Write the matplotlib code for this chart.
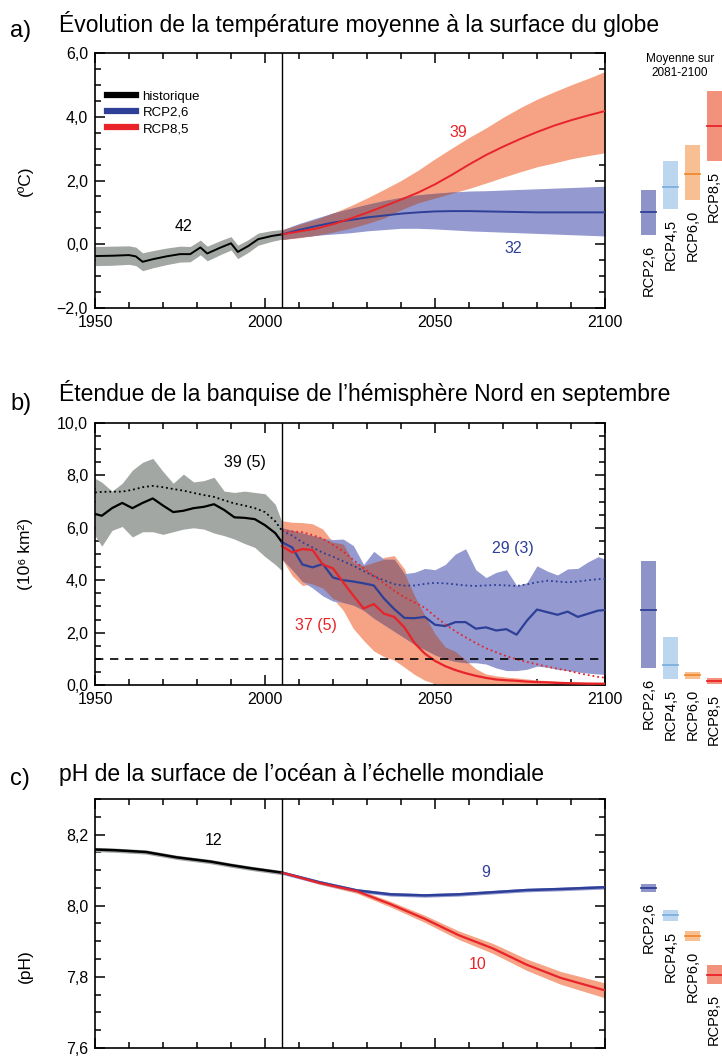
import numpy as np
import matplotlib
matplotlib.use("Agg")
import matplotlib.pyplot as plt
from matplotlib.lines import Line2D
from matplotlib.ticker import MultipleLocator, FuncFormatter

plt.rcParams['font.family'] = ['Liberation Sans', 'DejaVu Sans']

# ---------------- data ----------------
# a) global mean surface temperature change (degC)
hist_a_years = [1950, 1955, 1960, 1962, 1964, 1967, 1971, 1975, 1978, 1981, 1983, 1987, 1990, 1992, 1995, 1998, 2002, 2005]
hist_a_mean = [-0.37, -0.36, -0.34, -0.38, -0.55, -0.47, -0.38, -0.31, -0.31, -0.10, -0.29, -0.10, 0.03, -0.24, -0.06, 0.16, 0.26, 0.31]
hist_a_half = [0.30, 0.30, 0.29, 0.29, 0.28, 0.27, 0.26, 0.25, 0.24, 0.23, 0.23, 0.22, 0.21, 0.21, 0.20, 0.19, 0.17, 0.15]

proj_a_years = [2005, 2010, 2015, 2020, 2025, 2030, 2035, 2040, 2045, 2050, 2055, 2060, 2065, 2070, 2075, 2080, 2085, 2090, 2095, 2100]
rcp85_a_mean = [0.31, 0.40, 0.49, 0.63, 0.80, 0.99, 1.19, 1.40, 1.62, 1.88, 2.18, 2.50, 2.80, 3.06, 3.30, 3.52, 3.72, 3.89, 4.04, 4.18]
rcp85_a_hi = [0.45, 0.62, 0.78, 0.98, 1.20, 1.45, 1.72, 2.00, 2.32, 2.68, 3.02, 3.35, 3.65, 3.98, 4.28, 4.55, 4.78, 5.00, 5.20, 5.42]
rcp85_a_lo = [0.15, 0.20, 0.28, 0.38, 0.50, 0.65, 0.82, 1.08, 1.30, 1.45, 1.60, 1.75, 1.92, 2.10, 2.27, 2.43, 2.55, 2.68, 2.78, 2.87]
rcp26_a_mean = [0.31, 0.45, 0.57, 0.68, 0.76, 0.84, 0.90, 0.96, 1.00, 1.03, 1.04, 1.04, 1.03, 1.02, 1.01, 1.00, 1.00, 1.00, 1.00, 1.00]
rcp26_a_hi = [0.45, 0.65, 0.82, 0.98, 1.12, 1.25, 1.37, 1.47, 1.55, 1.60, 1.64, 1.67, 1.68, 1.70, 1.72, 1.74, 1.76, 1.78, 1.80, 1.82]
rcp26_a_lo = [0.15, 0.22, 0.28, 0.32, 0.36, 0.42, 0.46, 0.50, 0.50, 0.48, 0.45, 0.42, 0.40, 0.38, 0.36, 0.34, 0.32, 0.30, 0.28, 0.26]

# b) northern hemisphere September sea ice extent (10^6 km2)
hist_b_years = [1950, 1952, 1955, 1958, 1961, 1964, 1967, 1970, 1973, 1976, 1979, 1982, 1985, 1988, 1991, 1994, 1997, 2000, 2003, 2005]
hist_b_mean = [6.53, 6.46, 6.75, 6.95, 6.75, 6.95, 7.12, 6.85, 6.60, 6.65, 6.75, 6.80, 6.90, 6.68, 6.40, 6.38, 6.33, 6.10, 5.80, 5.45]
hist_b_sub = [7.35, 7.37, 7.38, 7.38, 7.45, 7.55, 7.60, 7.55, 7.48, 7.42, 7.33, 7.25, 7.18, 7.05, 6.93, 6.85, 6.75, 6.60, 6.25, 5.89]
hist_b_hi = [7.89, 7.74, 7.40, 7.70, 8.20, 8.50, 8.65, 8.15, 7.70, 8.05, 7.75, 7.80, 7.93, 7.40, 7.35, 7.40, 7.35, 7.30, 6.90, 6.21]
hist_b_lo = [5.70, 5.30, 5.90, 6.05, 5.65, 5.85, 5.85, 5.75, 5.85, 5.95, 6.00, 5.95, 5.80, 5.70, 5.57, 5.40, 5.25, 4.90, 4.60, 4.36]

proj_b_years = [2005, 2008, 2011, 2014, 2017, 2020, 2023, 2026, 2029, 2032, 2035, 2038, 2041, 2044, 2047, 2050, 2053,
                2056, 2059, 2062, 2065, 2068, 2071, 2074, 2077, 2080, 2083, 2086, 2089, 2092, 2095, 2098, 2100]
rcp26_b_mean = [5.45, 5.25, 4.60, 4.49, 4.62, 4.10, 4.00, 3.95, 3.88, 3.80, 3.30, 2.90, 2.56, 2.55, 2.60, 2.30, 2.25,
                2.40, 2.40, 2.15, 2.20, 2.08, 2.13, 1.92, 2.45, 2.88, 2.78, 2.68, 2.80, 2.60, 2.72, 2.84, 2.86]
rcp26_b_sub = [5.89, 5.70, 5.45, 5.25, 5.05, 4.90, 4.72, 4.55, 4.35, 4.15, 4.00, 3.85, 3.79, 3.80, 3.86, 3.90, 3.88,
               3.84, 3.80, 3.78, 3.80, 3.82, 3.80, 3.78, 3.84, 3.92, 3.98, 3.95, 3.92, 3.95, 4.00, 4.04, 4.05]
rcp26_b_hi = [6.00, 5.90, 5.80, 5.70, 5.60, 5.55, 5.57, 5.32, 4.60, 5.10, 4.80, 4.80, 4.25, 4.30, 4.45, 4.40, 4.60,
              5.00, 5.20, 4.40, 4.10, 4.30, 4.40, 3.80, 3.90, 4.55, 4.35, 4.20, 4.43, 4.45, 4.70, 4.90, 4.80]
rcp26_b_lo = [4.81, 4.40, 3.95, 3.70, 3.40, 3.20, 3.15, 3.05, 2.85, 2.55, 2.30, 2.05, 1.80, 1.55, 1.35, 1.15, 1.00,
              0.90, 0.85, 0.85, 0.80, 0.65, 0.55, 0.55, 0.60, 0.72, 0.68, 0.60, 0.55, 0.50, 0.45, 0.42, 0.40]
rcp85_b_mean = [5.30, 5.06, 5.19, 5.15, 4.60, 4.45, 3.92, 3.41, 2.92, 3.09, 2.72, 2.60, 2.20, 1.60, 1.20, 0.92, 0.72,
                0.57, 0.45, 0.35, 0.27, 0.21, 0.18, 0.16, 0.13, 0.11, 0.10, 0.08, 0.07, 0.06, 0.05, 0.05, 0.05]
rcp85_b_sub = [5.89, 5.86, 5.83, 5.72, 5.58, 5.35, 5.10, 4.77, 4.45, 4.17, 3.88, 3.60, 3.35, 3.15, 2.95, 2.62, 2.32,
               2.05, 1.82, 1.60, 1.40, 1.25, 1.10, 0.98, 0.88, 0.79, 0.70, 0.62, 0.55, 0.46, 0.38, 0.31, 0.28]
rcp85_b_hi = [6.27, 6.21, 6.20, 6.15, 5.95, 5.45, 5.38, 4.68, 4.55, 4.68, 4.87, 4.94, 4.43, 3.40, 2.65, 1.95, 1.45,
              1.28, 0.95, 0.62, 0.42, 0.35, 0.30, 0.27, 0.23, 0.19, 0.17, 0.15, 0.13, 0.12, 0.11, 0.10, 0.10]
rcp85_b_lo = [4.81, 4.17, 3.80, 3.85, 3.70, 3.30, 2.85, 2.15, 1.70, 1.30, 1.08, 0.95, 0.68, 0.40, 0.18, 0.05, 0.0,
              0.0, 0.0, 0.0, 0.0, 0.0, 0.0, 0.0, 0.0, 0.0, 0.0, 0.0, 0.0, 0.0, 0.0, 0.0, 0.0]
ice_free = 1.0

# c) global ocean surface pH
hist_c_years = [1950, 1956, 1965, 1974, 1984, 1990, 1996, 2005]
hist_c_mean = [8.158, 8.156, 8.151, 8.136, 8.124, 8.114, 8.105, 8.093]
proj_c_years = [2005, 2016, 2027, 2037, 2047, 2057, 2067, 2077, 2087, 2100]
rcp26_c_mean = [8.093, 8.066, 8.043, 8.032, 8.029, 8.032, 8.038, 8.044, 8.047, 8.052]
rcp85_c_mean = [8.093, 8.064, 8.041, 8.004, 7.963, 7.917, 7.880, 7.834, 7.797, 7.762]
rcp85_c_half = [0.002, 0.004, 0.006, 0.008, 0.010, 0.012, 0.014, 0.016, 0.018, 0.021]

# 2081-2100 means (bars): lo, hi, mean
scen = ['RCP2,6', 'RCP4,5', 'RCP6,0', 'RCP8,5']
bar_a_lo = [0.3, 1.1, 1.4, 2.6]
bar_a_hi = [1.7, 2.6, 3.1, 4.8]
bar_a_mean = [1.0, 1.8, 2.2, 3.7]
bar_b_lo = [0.65, 0.23, 0.23, 0.05]
bar_b_hi = [4.75, 1.85, 0.50, 0.25]
bar_b_mean = [2.85, 0.75, 0.38, 0.15]
bar_c_lo = [8.039, 7.957, 7.900, 7.780]
bar_c_hi = [8.061, 7.987, 7.930, 7.833]
bar_c_mean = [8.050, 7.973, 7.916, 7.806]

# ---------------- style ----------------
c_hist_band = '#A2A7A4'
c_26_band = '#9499CF'
c_85_band = '#F5A384'
c_overlap = '#A46F76'
c_26_line = '#2E3F98'
c_85_line = '#E8232A'
bar_fill = ['#8E93C8', '#BBD6EE', '#F8C092', '#F3927C']
bar_line = ['#2E3F98', '#7CB0DD', '#F08A2C', '#E8232A']

W, H = 722, 1056
fig = plt.figure(figsize=(W / 100, H / 100), dpi=100)


def rect(left, top, right, bottom):
    return [left / W, 1 - bottom / H, (right - left) / W, (bottom - top) / H]


def comma(fmt):
    return FuncFormatter(lambda v, p: (fmt % v).replace('.', ',').replace('-', '\u2212'))


def style_axes(ax, ylim, ymaj, ymin, yfmt):
    ax.set_xlim(1950, 2100)
    ax.set_ylim(*ylim)
    ax.xaxis.set_major_locator(MultipleLocator(50))
    ax.xaxis.set_minor_locator(MultipleLocator(10))
    ax.yaxis.set_major_locator(MultipleLocator(ymaj))
    ax.yaxis.set_minor_locator(MultipleLocator(ymin))
    ax.yaxis.set_major_formatter(comma(yfmt))
    ax.tick_params(which='both', direction='in', top=True, right=True, labelsize=11.5, width=1.1)
    ax.tick_params(which='major', length=7, pad=5)
    ax.tick_params(which='minor', length=4)
    for s in ax.spines.values():
        s.set_linewidth(1.2)
    ax.axvline(2005, color='black', lw=1.0, zorder=5)


def overlap(ax, x, lo1, hi1, lo2, hi2):
    lo = np.maximum(lo1, lo2)
    hi = np.minimum(hi1, hi2)
    ax.fill_between(x, lo, hi, where=hi > lo, interpolate=True, color=c_overlap, lw=0, zorder=3)


def bars(rect_, ylim, lo, hi, mean, off=-7):
    axb = fig.add_axes(rect_)
    axb.set_xlim(-0.5, 3.5)
    axb.set_ylim(*ylim)
    axb.axis('off')
    for i in range(4):
        axb.bar(i, hi[i] - lo[i], bottom=lo[i], width=0.7, color=bar_fill[i], lw=0, clip_on=False)
        axb.plot([i - 0.35, i + 0.35], [mean[i], mean[i]], color=bar_line[i], lw=1.3, clip_on=False)
        axb.annotate(scen[i], (i, lo[i]), xytext=(0, off), textcoords='offset points',
                     rotation=90, ha='center', va='top', fontsize=10.5, annotation_clip=False)
    return axb


# ---------------- a) ----------------
ax1 = fig.add_axes(rect(95, 53, 605, 308))
style_axes(ax1, (-2, 6), 2, 0.5, '%.1f')
ha = np.array(hist_a_mean)
hw = np.array(hist_a_half)
ax1.fill_between(hist_a_years, ha - hw, ha + hw, color=c_hist_band, lw=0, zorder=2)
ax1.fill_between(proj_a_years, rcp85_a_lo, rcp85_a_hi, color=c_85_band, lw=0, zorder=2)
ax1.fill_between(proj_a_years, rcp26_a_lo, rcp26_a_hi, color=c_26_band, lw=0, zorder=2)
overlap(ax1, proj_a_years, np.array(rcp26_a_lo), np.array(rcp26_a_hi), np.array(rcp85_a_lo), np.array(rcp85_a_hi))
ax1.plot(hist_a_years, hist_a_mean, color='black', lw=1.4, zorder=4)
ax1.plot(proj_a_years, rcp26_a_mean, color=c_26_line, lw=1.4, zorder=4)
ax1.plot(proj_a_years, rcp85_a_mean, color=c_85_line, lw=1.4, zorder=4)
ax1.text(1976, 0.57, '42', fontsize=11.5, ha='center', va='center')
ax1.text(2057, 3.5, '39', fontsize=11.5, ha='center', va='center', color=c_85_line)
ax1.text(2073, -0.13, '32', fontsize=11.5, ha='center', va='center', color=c_26_line)
ax1.set_ylabel('(ºC)', fontsize=12.5)
ax1.yaxis.set_label_coords(-0.122, 0.5)
handles = [Line2D([], [], color='black', lw=4.5), Line2D([], [], color=c_26_line, lw=4.5),
           Line2D([], [], color=c_85_line, lw=4.5)]
ax1.legend(handles, ['historique', 'RCP2,6', 'RCP8,5'], loc='upper left', bbox_to_anchor=(0.0, 0.9),
           frameon=False, fontsize=9.5, handlelength=2.2, handletextpad=0.5, labelspacing=0.3)
fig.text(59 / W, 1 - 24 / H, 'Évolution de la température moyenne à la surface du globe', fontsize=16.5, va='center')
fig.text(10 / W, 1 - 31 / H, 'a)', fontsize=17, va='center')
fig.text(680 / W, 1 - 66 / H, 'Moyenne sur\n2081-2100', fontsize=8.5, ha='center', va='center', linespacing=1.3)
bars(rect(638, 53, 725, 308), (-2, 6), bar_a_lo, bar_a_hi, bar_a_mean)

# ---------------- b) ----------------
ax2 = fig.add_axes(rect(95, 423, 605, 685))
style_axes(ax2, (0, 10), 2, 0.5, '%.1f')
ax2.fill_between(hist_b_years, hist_b_lo, hist_b_hi, color=c_hist_band, lw=0, zorder=2)
ax2.fill_between(proj_b_years, rcp85_b_lo, rcp85_b_hi, color=c_85_band, lw=0, zorder=2)
ax2.fill_between(proj_b_years, rcp26_b_lo, rcp26_b_hi, color=c_26_band, lw=0, zorder=2)
overlap(ax2, proj_b_years, np.array(rcp26_b_lo), np.array(rcp26_b_hi), np.array(rcp85_b_lo), np.array(rcp85_b_hi))
ax2.plot(hist_b_years, hist_b_mean, color='black', lw=1.6, zorder=4)
ax2.plot(hist_b_years, hist_b_sub, color='black', lw=1.3, ls=':', zorder=4)
ax2.plot(proj_b_years, rcp26_b_mean, color=c_26_line, lw=1.6, zorder=4)
ax2.plot(proj_b_years, rcp26_b_sub, color=c_26_line, lw=1.3, ls=':', zorder=4)
ax2.plot(proj_b_years, rcp85_b_mean, color=c_85_line, lw=1.6, zorder=4)
ax2.plot(proj_b_years, rcp85_b_sub, color=c_85_line, lw=1.3, ls=':', zorder=4)
ax2.axhline(ice_free, color='black', lw=1.2, ls=(0, (5, 4)), zorder=4)
ax2.text(1994, 8.5, '39 (5)', fontsize=11.5, ha='center', va='center')
ax2.text(2073, 5.2, '29 (3)', fontsize=11.5, ha='center', va='center', color=c_26_line)
ax2.text(2015, 2.26, '37 (5)', fontsize=11.5, ha='center', va='center', color=c_85_line)
ax2.set_ylabel('(10⁶ km²)', fontsize=12.5)
ax2.yaxis.set_label_coords(-0.122, 0.5)
fig.text(59 / W, 1 - 393 / H, 'Étendue de la banquise de l\u2019hémisphère Nord en septembre', fontsize=16.5, va='center')
fig.text(10 / W, 1 - 404 / H, 'b)', fontsize=17, va='center')
bars(rect(638, 423, 725, 685), (0, 10), bar_b_lo, bar_b_hi, bar_b_mean)

# ---------------- c) ----------------
ax3 = fig.add_axes(rect(95, 799, 605, 1048))
style_axes(ax3, (7.6, 8.3), 0.2, 0.05, '%.1f')
ax3.tick_params(labelbottom=False)
hc = np.array(hist_c_mean)
ax3.fill_between(hist_c_years, hc - 0.006, hc + 0.006, color=c_hist_band, lw=0, zorder=2)
r85 = np.array(rcp85_c_mean)
r85h = np.array(rcp85_c_half)
ax3.fill_between(proj_c_years, r85 - r85h, r85 + r85h, color=c_85_band, lw=0, zorder=2)
r26 = np.array(rcp26_c_mean)
ax3.fill_between(proj_c_years, r26 - 0.005, r26 + 0.005, color=c_26_band, lw=0, zorder=2)
ax3.plot(hist_c_years, hist_c_mean, color='black', lw=1.8, zorder=4)
ax3.plot(proj_c_years, rcp26_c_mean, color=c_26_line, lw=1.8, zorder=4)
ax3.plot(proj_c_years, rcp85_c_mean, color=c_85_line, lw=1.6, zorder=4)
ax3.text(1985, 8.183, '12', fontsize=11.5, ha='center', va='center')
ax3.text(2065, 8.092, '9', fontsize=11.5, ha='center', va='center', color=c_26_line)
ax3.text(2062.5, 7.834, '10', fontsize=11.5, ha='center', va='center', color=c_85_line)
ax3.set_ylabel('(pH)', fontsize=12.5)
ax3.yaxis.set_label_coords(-0.122, 0.33)
fig.text(59 / W, 1 - 775 / H, 'pH de la surface de l\u2019océan à l\u2019échelle mondiale', fontsize=16.5, va='center')
fig.text(10 / W, 1 - 779 / H, 'c)', fontsize=17, va='center')
bars(rect(638, 799, 725, 1048), (7.6, 8.3), bar_c_lo, bar_c_hi, bar_c_mean)

fig.savefig('out.png', dpi=100)
